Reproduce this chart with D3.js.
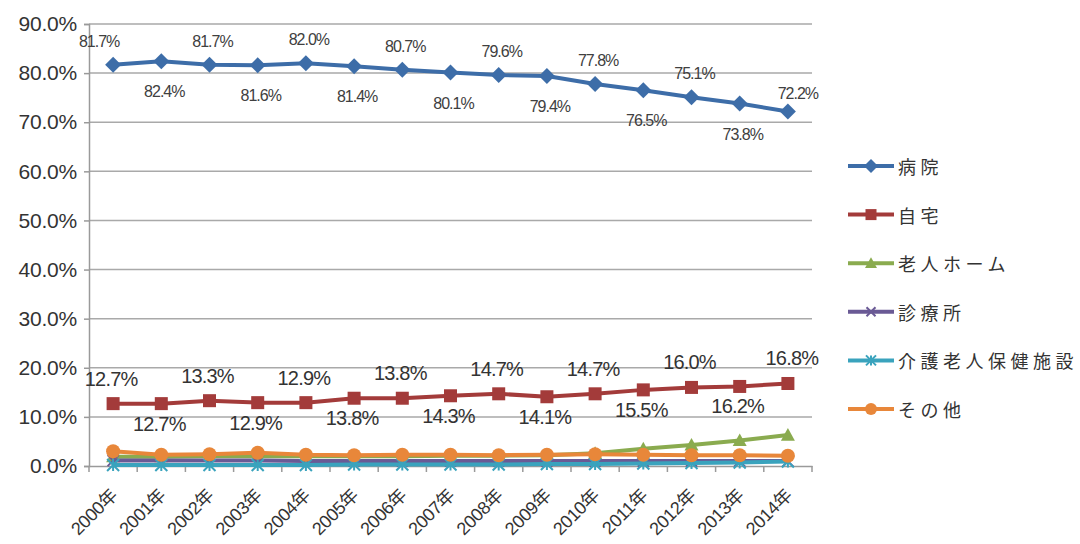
<!DOCTYPE html>
<html><head><meta charset="utf-8">
<script src="https://cdn.jsdelivr.net/npm/d3@7"></script>
<style>body{margin:0;background:#fff}svg{display:block}</style>
</head><body><svg id="c" width="1080" height="544"></svg>
<script>
const years = ["2000年","2001年","2002年","2003年","2004年","2005年","2006年","2007年","2008年","2009年","2010年","2011年","2012年","2013年","2014年"];
const seriesNames = ["病院","自宅","老人ホーム","診療所","介護老人保健施設","その他"];
const hospital = [81.7,82.4,81.7,81.6,82.0,81.4,80.7,80.1,79.6,79.4,77.8,76.5,75.1,73.8,72.2];
const home = [12.7,12.7,13.3,12.9,12.9,13.8,13.8,14.3,14.7,14.1,14.7,15.5,16.0,16.2,16.8];
const nursingHome = [1.9,1.9,2.0,2.0,2.0,2.0,2.0,2.1,2.1,2.2,2.6,3.5,4.3,5.2,6.3];
const clinic = [1.1,1.1,1.1,1.1,1.0,1.0,1.0,1.0,1.0,1.0,1.0,1.0,1.0,1.0,1.0];
const careFacility = [0.2,0.2,0.2,0.2,0.2,0.3,0.3,0.3,0.3,0.4,0.4,0.5,0.6,0.7,0.9];
const others = [3.0,2.3,2.4,2.7,2.3,2.2,2.3,2.3,2.2,2.3,2.4,2.3,2.2,2.2,2.1];
const yTicks = [0,10,20,30,40,50,60,70,80,90];

const colors = ["#3d6da8","#a33b3a","#8aab4f","#6a5a95","#3aa3bd","#e8873a"];
const shapes = ["diamond","square","triangle","x","asterisk","circle"];
const allSeries = [hospital, home, nursingHome, clinic, careFacility, others];

const svg = d3.select("#c");
const x = d3.scaleBand().domain(years).range([89, 812]);
const cx = d => x(d) + x.bandwidth()/2;
const y = d3.scaleLinear().domain([0, 90]).range([466, 24]);

// gridlines
svg.append("g").selectAll("line").data(yTicks.filter(t=>t>0)).join("line")
  .attr("x1", 89).attr("x2", 812).attr("y1", d=>y(d)).attr("y2", d=>y(d))
  .attr("stroke", "#a9a9a9").attr("stroke-width", 1.5);

// y axis
const yAxis = d3.axisLeft(y).tickValues(yTicks).tickSize(5).tickFormat(d => d.toFixed(1) + "%");
const gy = svg.append("g").attr("transform","translate(89,0)").call(yAxis);
gy.select(".domain").attr("stroke","#9a9a9a").attr("stroke-width",1.5);
gy.selectAll(".tick line").attr("stroke","#9a9a9a").attr("stroke-width",1.5);
gy.selectAll(".tick text").attr("x",-12).attr("font-family","Liberation Sans, Arial, sans-serif")
  .attr("font-size",21).attr("letter-spacing",-0.2).attr("fill","#333");

// x axis
const xAxis = d3.axisBottom(x).tickSize(0).tickFormat("");
const gx = svg.append("g").attr("transform","translate(0,466)").call(xAxis);
gx.select(".domain").attr("stroke","#9a9a9a").attr("stroke-width",1.5);
const bounds = years.map(d=>x(d)).concat([812]);
svg.append("g").selectAll("line").data(bounds).join("line")
  .attr("x1",d=>d).attr("x2",d=>d).attr("y1",466).attr("y2",472)
  .attr("stroke","#9a9a9a").attr("stroke-width",1.5);
svg.append("g").selectAll("text").data(years).join("text")
  .attr("transform", d => `translate(${cx(d)+2},${493}) rotate(-45)`)
  .attr("text-anchor","end").attr("dominant-baseline","middle")
  .attr("font-family","Liberation Sans, Noto Sans CJK JP, sans-serif").attr("font-size",18)
  .attr("letter-spacing",-0.3).attr("fill","#333").text(d=>d);

function drawMarker(g, shape, color, size){
  if(shape==="diamond"){
    const s=size/2;
    g.append("path").attr("d", `M0,${-s}L${s},0L0,${s}L${-s},0Z`).attr("fill",color);
  } else if(shape==="square"){
    g.append("rect").attr("x",-size/2).attr("y",-size/2).attr("width",size).attr("height",size).attr("fill",color);
  } else if(shape==="triangle"){
    const s=size/2;
    g.append("path").attr("d", `M0,${-s}L${s},${s*0.8}L${-s},${s*0.8}Z`).attr("fill",color);
  } else if(shape==="x"){
    const s=size/2;
    g.append("path").attr("d",`M${-s},${-s}L${s},${s}M${-s},${s}L${s},${-s}`).attr("stroke",color).attr("stroke-width",2);
  } else if(shape==="asterisk"){
    const s=size/2;
    g.append("path").attr("d",`M${-s},${-s}L${s},${s}M${-s},${s}L${s},${-s}M0,${-s}L0,${s}`).attr("stroke",color).attr("stroke-width",2);
  } else if(shape==="circle"){
    g.append("circle").attr("r",size/2).attr("fill",color);
  }
}
const mSizes = [16,13,14,11,12,14];

// series
const line = d3.line().x((d,i)=>cx(years[i])).y(d=>y(d));
allSeries.forEach((vals, si) => {
  const g = svg.append("g");
  g.append("path").datum(vals).attr("d", line).attr("fill","none")
    .attr("stroke", colors[si]).attr("stroke-width", 4).attr("stroke-linejoin","round");
  vals.forEach((v,i) => {
    const mg = g.append("g").attr("transform",`translate(${cx(years[i])},${y(v)})`);
    drawMarker(mg, shapes[si], colors[si], mSizes[si]);
  });
});

// labels hospital
svg.append("g").selectAll("text").data(hospital).join("text")
  .attr("x",(d,i)=> i===hospital.length-1 ? cx(years[i])+10 : cx(years[i]) + (i===0?-14:3))
  .attr("y",(d,i)=> i===hospital.length-1 ? y(d)-12 : (i%2===0 ? y(d)-18 : y(d)+36))
  .attr("text-anchor","middle").attr("font-family","Liberation Sans, Arial, sans-serif")
  .attr("font-size",16).attr("letter-spacing",-1).attr("fill","#404040")
  .text(d=>d.toFixed(1)+"%");

// labels home
svg.append("g").selectAll("text").data(home).join("text")
  .attr("x",(d,i)=> cx(years[i]) + (i===home.length-1 ? 4 : -2))
  .attr("y",(d,i)=> i%2===0 ? y(d)-18 : y(d)+27)
  .attr("text-anchor","middle").attr("font-family","Liberation Sans, Arial, sans-serif")
  .attr("font-size",20).attr("letter-spacing",-0.8).attr("fill","#333")
  .text(d=>d.toFixed(1)+"%");

// legend
const lg = svg.append("g");
seriesNames.forEach((n, si) => {
  const ly = 166 + si*48.6;
  const g = lg.append("g").attr("transform",`translate(0,${ly})`);
  g.append("line").attr("x1",848).attr("x2",894).attr("y1",0).attr("y2",0)
    .attr("stroke",colors[si]).attr("stroke-width",4);
  const mg = g.append("g").attr("transform","translate(871,0)");
  drawMarker(mg, shapes[si], colors[si], mSizes[si]-2);
  g.append("text").attr("x",898).attr("y",0).attr("dominant-baseline","central")
    .attr("font-family","Noto Sans CJK JP, sans-serif").attr("font-size",18)
    .attr("letter-spacing",4.5).attr("fill","#333").text(n);
});
</script></body></html>
